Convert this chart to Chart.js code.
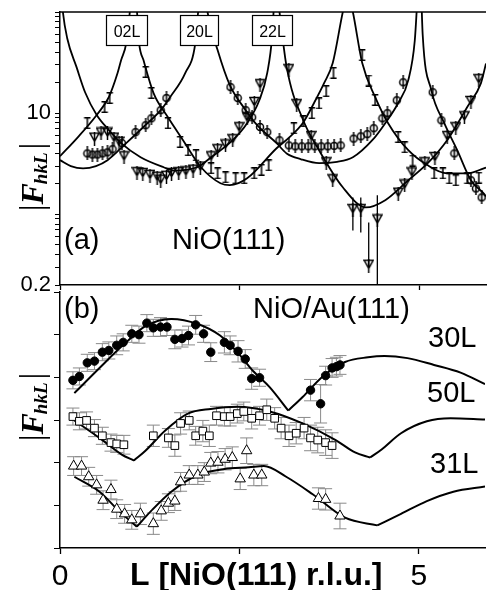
<!DOCTYPE html>
<html>
<head>
<meta charset="utf-8">
<script src="https://cdn.jsdelivr.net/npm/chart.js@4.4.0/dist/chart.umd.min.js"></script>
<style>
  html, body { margin: 0; padding: 0; background: #fff; }
  #wrap { position: relative; width: 492px; height: 590px; overflow: hidden; background: #fff; }
  canvas { position: absolute; left: 0; }
  #chartA { top: 0; }
  #chartB { top: 285px; }
</style>
</head>
<body>
<div id="wrap">
  <canvas id="chartA" width="492" height="300"></canvas>
  <canvas id="chartB" width="492" height="305"></canvas>
</div>
<script>
// ---------- panel (a): NiO(111), |F| on a log axis ----------
const rodNames = ['02L', '20L', '22L'];
const logTickValues = [0.2, 0.3, 0.4, 0.5, 0.6, 0.7, 0.8, 0.9, 1, 2, 3, 4, 5, 6, 7, 8, 9, 10, 20, 30, 40, 50, 60, 70, 80, 90, 100];
const logTickLabels = { 0.2: '0.2', 10: '10' };

// fitted CTR curves (null = break at a Bragg peak)
const fit02L_L = [0, 0.25, 0.51, 0.68, 0.8, 0.85, 0.92, 0.97, 0.99, 1.0,
  1.01, 1.07, 1.1, 1.16, 1.3, 1.5, 1.71, 1.96, 2.23, 2.36, 2.6, 3.01, 3.19, 3.38, 3.53, 3.67, 3.79, 3.93, 3.99, 4.0,
  4.01, 4.07, 4.2, 4.38, 4.56, 4.84, 5.11, 5.38, 5.66, 5.89, 5.92];
const fit02L_F = [3.75, 5.8, 9.6, 14.5, 24.9, 33.5, 49, 100, 150, null,
  150, 100, 49, 33.5, 15.8, 9.1, 5.4, 2.92, 2.03, 1.94, 2.27, 4.5, 5.8, 8.1, 12.6, 19.8, 31.3, 100, 150, null,
  150, 100, 31.3, 14.4, 7.96, 4.3, 3.05, 2.54, 2.54, 2.85, 2.9];

const fit20L_L = [0, 0.15, 0.32, 0.5, 0.66, 0.92, 1.16, 1.4, 1.53, 1.74, 1.88, 1.92, 1.98, 2.0,
  2.02, 2.05, 2.19, 2.36, 2.56, 2.74, 3.01, 3.15, 3.35, 3.6, 3.85, 4.07, 4.34, 4.52, 4.7, 4.84, 4.93, 4.97, 5.0,
  5.02, 5.04, 5.16, 5.34, 5.52, 5.71, 5.89, 5.92];
const fit20L_F = [3.43, 3.0, 2.85, 3.0, 3.43, 5.05, 7.3, 10.7, 14.4, 24.9, 49, 100, 150, null,
  150, 100, 42, 18.9, 11.2, 7.6, 5.05, 4.0, 3.5, 3.2, 3.3, 3.66, 5.4, 7.96, 12.6, 21.2, 52, 150, null,
  150, 60, 16.9, 7.96, 4.3, 2.17, 1.6, 1.5];

const fit22L_L = [0.02, 0.04, 0.1, 0.23, 0.35, 0.51, 0.68, 0.85, 1.12, 1.44, 1.6, 1.75, 1.92, 2.1, 2.4, 2.6, 2.77, 2.88, 2.95, 2.98, 3.0,
  3.02, 3.05, 3.15, 3.38, 3.6, 3.93, 4.25, 4.52, 4.84, 5.11, 5.38, 5.66, 5.85, 5.92];
const fit22L_F = [150, 100, 55, 28.5, 16, 9.6, 6.8, 5.05, 3.66, 2.92, 2.7, 2.75, 2.95, 3.66, 5.4, 7.96, 13.4, 25, 60, 150, null,
  150, 100, 28.5, 8.5, 4.3, 1.85, 1.17, 1.38, 2.17, 3.2, 5.4, 11.5, 19.8, 31];

// measured points
const obs02L_L = [0.38, 0.62, 0.69, 1.19, 1.27, 1.5, 1.67, 1.78, 1.89, 2.1, 2.19, 2.3, 2.44, 2.56, 2.7, 2.8, 2.9,
  3.25, 3.38, 3.5, 3.6, 3.7, 3.8, 4.2, 4.29, 4.38, 4.7, 4.79, 4.9, 5.2, 5.32, 5.41, 5.5, 5.66, 5.82];
const obs02L_F = [7.96, 11.5, 14.1, 25.5, 15.8, 7.96, 5.2, 4.3, 3.83, 2.85, 2.54, 2.32, 2.27, 2.27, 2.54, 2.75, 3.05,
  7.1, 8.3, 10, 12.5, 16.5, 25, 37.5, 21, 13.5, 5.8, 4.6, 3.4, 2.54, 2.54, 2.27, 2.17, 2.27, 2.3];

const obs20L_L = [0.38, 0.45, 0.52, 0.59, 0.66, 0.73, 0.86, 1.05, 1.19, 1.27, 1.4, 1.48,
  2.37, 2.47, 2.58, 2.67, 2.78, 2.88, 3.05, 3.18, 3.27, 3.36, 3.45, 3.54, 3.63, 3.72, 3.81, 3.9,
  4.08, 4.18, 4.27, 4.36, 4.48, 4.55, 4.68, 4.77, 5.18, 5.3, 5.48, 5.71, 5.78, 5.86];
const obs20L_F = [4.0, 3.9, 3.9, 4.0, 4.1, 4.4, 5.05, 6.5, 7.6, 8.9, 10.7, 14.1,
  18.1, 14.1, 10.7, 9.1, 7.3, 6.5, 5.4, 4.8, 4.7, 4.7, 4.7, 4.7, 4.7, 4.7, 4.75, 4.8,
  5.6, 5.9, 6.2, 7.1, 8.9, 10, 13.4, 20.2, 16.1, 8.5, 4.0, 2.17, 1.8, 1.47];

const obs22L_L = [0.48, 0.57, 0.66, 0.75, 0.82, 0.89, 1.07, 1.15, 1.25, 1.35, 1.4, 1.48, 1.55, 1.65, 1.75, 1.85, 1.95,
  2.1, 2.19, 2.3, 2.4, 2.49, 2.6, 2.7, 2.78, 3.18, 3.29, 3.49, 3.7, 3.79,
  4.7, 4.79, 4.89, 5.07, 5.21, 5.38, 5.5, 5.62, 5.71, 5.82];
const obs22L_F = [5.6, 6.3, 6.3, 5.6, 5.1, 3.66, 2.55, 2.5, 2.4, 2.3, 2.15, 2.35, 2.5, 2.55, 2.6, 2.7, 2.9,
  3.66, 4.3, 4.8, 5.4, 7.1, 8.9, 12.6, 18.9, 26.6, 12, 5.8, 3.2, 2.17,
  1.6, 1.93, 2.54, 3.2, 3.6, 5.8, 7.1, 9.1, 12.9, 21.2];
// weak 22L points with long error bars
const weak22L_L = [4.07, 4.18, 4.29, 4.41];
const weak22L_F = [1.1, 1.1, 0.31, 0.87];
const weak22L_lo = [0.69, 0.66, 0.31, 0.1];
const weak22L_hi = [1.47, 1.47, 0.83, 1.54];

// ---------- panel (b): NiO/Au(111), linear |F| ----------
const fit30L_L = [0.2, 0.55, 0.92, 1.19, 1.55, 1.92, 2.23, 2.47, 2.7, 2.92, 3.18, 3.18, 3.18, 3.38, 3.66, 3.97, 4.29, 4.52, 4.84, 5.21, 5.58, 5.92];
const fit30L_F = [3.63, 4.22, 4.82, 5.2, 5.37, 5.25, 4.98, 4.59, 4.13, 3.77, 3.22, null, 3.22, 3.54, 4.02, 4.36, 4.47, 4.5, 4.45, 4.29, 4.11, 3.84];
const fit50L_L = [0.2, 0.55, 0.86, 1.03, 1.03, 1.03, 1.19, 1.47, 1.78, 2.1, 2.47, 2.92, 3.38, 3.84, 4.11, 4.32, 4.32, 4.32, 4.48, 4.75, 5.11, 5.44, 5.92];
const fit50L_F = [2.99, 2.58, 2.19, 2.05, null, 2.05, 2.28, 2.76, 3.15, 3.26, 3.31, 3.2, 2.92, 2.53, 2.24, 2.12, null, 2.12, 2.31, 2.69, 2.97, 3.04, 3.01];
const fit31L_L = [0.2, 0.55, 0.82, 1.07, 1.07, 1.07, 1.27, 1.55, 1.92, 2.29, 2.63, 2.84, 3.15, 3.52, 3.97, 4.42, 4.42, 4.42, 4.75, 5.11, 5.48, 5.92];
const fit31L_F = [1.67, 1.32, 0.87, 0.5, null, 0.5, 0.87, 1.32, 1.71, 1.85, 1.89, 1.92, 1.67, 1.26, 0.71, 0.53, null, 0.53, 0.8, 1.1, 1.32, 1.44];

const obs30L_L = [0.18, 0.27, 0.38, 0.48, 0.59, 0.68, 0.79, 0.88, 1.0, 1.1, 1.21, 1.3, 1.4, 1.49, 1.6, 1.7, 1.79, 1.89, 2.0, 2.1,
  2.29, 2.37, 2.48, 2.58, 2.67, 2.78, 3.49, 3.63, 3.7, 3.79, 3.85, 3.9];
const obs30L_F = [3.93, 4.02, 4.34, 4.38, 4.59, 4.63, 4.75, 4.82, 5.02, 5.0, 5.27, 5.16, 5.18, 5.18, 4.89, 4.91, 4.98, 5.23, 5.02, 4.59,
  4.82, 4.75, 4.61, 4.43, 3.97, 3.99, 3.7, 3.38, 4.04, 4.22, 4.25, 4.29];
const err30L = [0.2, 0.2, 0.2, 0.2, 0.2, 0.2, 0.22, 0.2, 0.2, 0.2, 0.2, 0.2, 0.22, 0.2, 0.22, 0.2, 0.22, 0.22, 0.2, 0.22,
  0.25, 0.22, 0.25, 0.22, 0.25, 0.2, 0.25, 0.45, 0.22, 0.22, 0.22, 0.22];

const obs50L_L = [0.18, 0.27, 0.37, 0.48, 0.59, 0.71, 0.79, 0.89, 1.3, 1.51, 1.6, 1.68, 1.8, 1.89, 1.99, 2.08, 2.18, 2.29, 2.37, 2.47,
  2.56, 2.67, 2.78, 2.88, 2.99, 3.08, 3.19, 3.29, 3.4, 3.49, 3.59, 3.7, 3.79];
const obs50L_F = [3.08, 2.97, 2.99, 2.81, 2.63, 2.47, 2.44, 2.42, 2.63, 2.58, 2.4, 2.92, 2.99, 2.63, 2.74, 2.63, 3.1, 3.08, 3.08, 3.15,
  3.2, 3.04, 3.1, 3.24, 3.04, 2.81, 2.63, 2.69, 2.81, 2.58, 2.53, 2.47, 2.4];
const err50L = [0.2, 0.2, 0.2, 0.2, 0.2, 0.2, 0.2, 0.22, 0.25, 0.22, 0.25, 0.25, 0.22, 0.22, 0.25, 0.25, 0.22, 0.22, 0.22, 0.22,
  0.22, 0.25, 0.22, 0.25, 0.25, 0.25, 0.25, 0.25, 0.25, 0.3, 0.3, 0.3, 0.3];

const obs31L_L = [0.19, 0.3, 0.4, 0.51, 0.6, 0.71, 0.79, 0.9, 1.0, 1.12, 1.3, 1.41, 1.51, 1.6, 1.68, 1.8, 1.92, 2.01, 2.1, 2.2,
  2.3, 2.4, 2.51, 2.6, 2.7, 2.81, 3.6, 3.7, 3.9];
const obs31L_F = [1.92, 1.92, 1.67, 1.48, 1.12, 1.37, 0.91, 0.8, 0.66, 0.8, 0.57, 0.87, 1.05, 1.1, 1.55, 1.71, 1.71, 1.78, 1.99, 2.01,
  2.08, 2.12, 1.62, 2.28, 1.71, 1.71, 1.16, 1.14, 0.75];
const err31L = [0.22, 0.22, 0.22, 0.22, 0.22, 0.22, 0.22, 0.22, 0.22, 0.25, 0.25, 0.22, 0.22, 0.22, 0.22, 0.22, 0.22, 0.22, 0.25, 0.25,
  0.25, 0.25, 0.25, 0.3, 0.25, 0.25, 0.25, 0.25, 0.3];

const axisTicksL = [0, 2.5, 5];
const axisTickLabels = { 0: '0', 5: '5' };

// ---------- helpers ----------
const SANS = '"Liberation Sans", Arial, sans-serif';
const SERIF = '"Liberation Serif", "Times New Roman", serif';
Chart.defaults.font.family = SANS;
Chart.defaults.color = '#000';

const pts = (xs, ys) => xs.map((x, i) => ({ x: x, y: ys[i] }));

function fitLine(xs, ys, w) {
  return {
    type: 'line', data: pts(xs, ys), borderColor: '#000', borderWidth: w,
    pointRadius: 0, cubicInterpolationMode: 'monotone', spanGaps: false, order: 3
  };
}

function marker(kind) {
  const c = document.createElement('canvas');
  if (kind === 'ibeam') { c.width = 8; c.height = 12; }
  else if (kind === 'ring') { c.width = 10; c.height = 14; }
  else { c.width = 11; c.height = 14; }
  const g = c.getContext('2d');
  g.strokeStyle = '#000';
  g.lineWidth = 1.5;
  g.beginPath();
  if (kind === 'ibeam') {
    g.moveTo(4, 0.8); g.lineTo(4, 11.2);
    g.moveTo(0.8, 0.8); g.lineTo(7.2, 0.8);
    g.moveTo(0.8, 11.2); g.lineTo(7.2, 11.2);
  } else if (kind === 'ring') {
    g.arc(5, 7, 3.5, 0, Math.PI * 2);
    g.moveTo(5, 0); g.lineTo(5, 14);
  } else {
    g.moveTo(1, 1.5); g.lineTo(10, 1.5); g.lineTo(5.5, 9.8); g.closePath();
    g.moveTo(5.5, 0); g.lineTo(5.5, 14);
  }
  g.stroke();
  return c;
}

function points(xs, ys, style, extra) {
  return Object.assign({
    type: 'line', data: pts(xs, ys), showLine: false, pointStyle: style,
    pointRadius: 5, pointBorderColor: '#000', pointBackgroundColor: '#000', order: 1
  }, extra || {});
}

const errorBars = {
  id: 'errorBars',
  beforeDatasetsDraw(chart) {
    const ctx = chart.ctx, a = chart.chartArea;
    const xs = chart.scales.x, ys = chart.scales.y;
    ctx.save();
    ctx.beginPath(); ctx.rect(a.left, a.top, a.right - a.left, a.bottom - a.top); ctx.clip();
    chart.data.datasets.forEach(ds => {
      if (!ds.errLow) return;
      ctx.strokeStyle = ds.errColor || '#000';
      ctx.lineWidth = ds.errWidth || 1;
      ds.data.forEach((p, j) => {
        const x = xs.getPixelForValue(p.x);
        const y1 = ys.getPixelForValue(ds.errLow[j]);
        const y2 = ys.getPixelForValue(ds.errHigh[j]);
        ctx.beginPath();
        ctx.moveTo(x, y1); ctx.lineTo(x, y2);
        if (ds.errCap) {
          ctx.moveTo(x - ds.errCap, y1); ctx.lineTo(x + ds.errCap, y1);
          ctx.moveTo(x - ds.errCap, y2); ctx.lineTo(x + ds.errCap, y2);
        }
        ctx.stroke();
      });
    });
    ctx.restore();
  }
};

function drawText(ctx, text, x, y, font, align) {
  ctx.font = font;
  ctx.textAlign = align || 'left';
  ctx.textBaseline = 'alphabetic';
  ctx.fillStyle = '#000';
  ctx.fillText(text, x, y);
}

// |F_hkL| rotated title
function drawFTitle(ctx, cx, cy) {
  ctx.save();
  ctx.translate(cx, cy);
  ctx.rotate(-Math.PI / 2);
  ctx.fillStyle = '#000';
  ctx.textBaseline = 'alphabetic';
  ctx.textAlign = 'left';
  const barFont = '34px ' + SERIF, bigFont = 'bold italic 32px ' + SERIF, subFont = 'bold italic 19px ' + SERIF;
  ctx.font = barFont; const wb = ctx.measureText('|').width;
  ctx.font = bigFont; const wf = ctx.measureText('F').width;
  ctx.font = subFont; const ws = ctx.measureText('hkL').width;
  let x = -(2 * wb + wf + ws + 2) / 2;
  ctx.font = barFont; ctx.fillText('|', x, 11); x += wb;
  ctx.font = bigFont; ctx.fillText('F', x, 11); x += wf;
  ctx.font = subFont; ctx.fillText('hkL', x - 1, 15); x += ws + 2;
  ctx.font = barFont; ctx.fillText('|', x, 11);
  ctx.restore();
}

const decorA = {
  id: 'decorA',
  afterDraw(chart) {
    const ctx = chart.ctx, a = chart.chartArea;
    ctx.save();
    ctx.strokeStyle = '#000'; ctx.lineWidth = 1.5;
    ctx.beginPath(); ctx.moveTo(a.left, a.top); ctx.lineTo(a.right, a.top); ctx.stroke();
    // rod label boxes
    const boxes = [[106, 41], [180, 38], [252, 40]];
    rodNames.forEach((name, i) => {
      const [bx, bw] = boxes[i];
      ctx.fillStyle = '#fff';
      ctx.fillRect(bx, 15, bw, 30);
      ctx.lineWidth = 1.2;
      ctx.strokeRect(bx + 0.5, 15.5, bw, 30);
      drawText(ctx, name, bx + bw / 2 + 0.5, 37, '16px ' + SANS, 'center');
    });
    drawText(ctx, '(a)', 64, 249, '29px ' + SANS);
    drawText(ctx, 'NiO(111)', 172, 249, '29px ' + SANS);
    drawFTitle(ctx, 32, 177);
    ctx.restore();
  }
};

const decorB = {
  id: 'decorB',
  afterDraw(chart) {
    const ctx = chart.ctx, top = 285;
    ctx.save();
    drawText(ctx, '(b)', 64, 318 - top, '29px ' + SANS);
    drawText(ctx, 'NiO/Au(111)', 253, 318 - top, '29px ' + SANS);
    drawText(ctx, '30L', 428, 347 - top, '29px ' + SANS);
    drawText(ctx, '50L', 427, 402 - top, '29px ' + SANS);
    drawText(ctx, '31L', 430, 473 - top, '29px ' + SANS);
    drawText(ctx, 'L [NiO(111) r.l.u.]', 130, 585 - top, 'bold 32px ' + SANS);
    drawFTitle(ctx, 32, 407 - top);
    ctx.restore();
  }
};

function xScale(showLabels, tickLen, height) {
  return {
    type: 'linear', min: 0, max: 5.92,
    afterBuildTicks: s => { s.ticks = axisTicksL.map(v => ({ value: v })); },
    afterFit: s => { s.height = height; s.paddingLeft = 0; s.paddingRight = 0; },
    grid: { drawOnChartArea: false, tickLength: tickLen, tickColor: '#000', tickWidth: 1.3 },
    border: { color: '#000', width: 1.5 },
    ticks: {
      display: showLabels, autoSkip: false, maxRotation: 0, padding: 5,
      font: { size: 30 },
      callback: v => (axisTickLabels[v] !== undefined ? axisTickLabels[v] : '')
    }
  };
}

const blackI = marker('ibeam'), ringBar = marker('ring'), triBar = marker('tri');

new Chart(document.getElementById('chartA'), {
  type: 'line',
  data: {
    datasets: [
      fitLine(fit02L_L, fit02L_F, 1.8),
      fitLine(fit20L_L, fit20L_F, 1.8),
      fitLine(fit22L_L, fit22L_F, 1.8),
      points(obs02L_L, obs02L_F, blackI),
      points(obs20L_L, obs20L_F, ringBar),
      points(obs22L_L, obs22L_F, triBar),
      points(weak22L_L, weak22L_F, triBar, { errLow: weak22L_lo, errHigh: weak22L_hi, errColor: '#000', errWidth: 1.3 })
    ]
  },
  options: {
    responsive: false, animation: false,
    layout: { padding: { top: 12, right: 0, left: 0, bottom: 0 } },
    plugins: { legend: { display: false }, tooltip: { enabled: false } },
    scales: {
      x: xScale(false, 5, 15),
      y: {
        type: 'logarithmic', min: 0.2, max: 100,
        afterBuildTicks: s => { s.ticks = logTickValues.map(v => ({ value: v })); },
        afterFit: s => { s.width = 60; s.paddingTop = 0; s.paddingBottom = 0; },
        grid: { drawOnChartArea: false, tickLength: 5, tickColor: '#000', tickWidth: 1 },
        border: { color: '#000', width: 1.5 },
        ticks: {
          autoSkip: false, padding: 4, font: { size: 22 },
          callback: v => (logTickLabels[v] !== undefined ? logTickLabels[v] : '')
        }
      }
    }
  },
  plugins: [errorBars, decorA]
});

const withErr = (ys, es) => ({
  errLow: ys.map((y, i) => y - es[i]), errHigh: ys.map((y, i) => y + es[i]),
  errColor: '#8a8a8a', errCap: 6.5, errWidth: 1
});

new Chart(document.getElementById('chartB'), {
  type: 'line',
  data: {
    datasets: [
      fitLine(fit30L_L, fit30L_F, 2),
      fitLine(fit50L_L, fit50L_F, 2),
      fitLine(fit31L_L, fit31L_F, 2),
      points(obs30L_L, obs30L_F, 'circle', Object.assign({ pointRadius: 4.2, pointBackgroundColor: '#000' }, withErr(obs30L_F, err30L))),
      points(obs50L_L, obs50L_F, 'rect', Object.assign({ pointRadius: 5.4, pointBackgroundColor: '#fff', pointBorderWidth: 1 }, withErr(obs50L_F, err50L))),
      points(obs31L_L, obs31L_F, 'triangle', Object.assign({ pointRadius: 6, pointBackgroundColor: '#fff', pointBorderWidth: 1 }, withErr(obs31L_F, err31L)))
    ]
  },
  options: {
    responsive: false, animation: false,
    layout: { padding: 0 },
    plugins: { legend: { display: false }, tooltip: { enabled: false } },
    scales: {
      x: xScale(true, 6, 42),
      y: {
        type: 'linear', min: 0, max: 6,
        afterFit: s => { s.width = 60; s.paddingTop = 0; s.paddingBottom = 0; },
        grid: { drawOnChartArea: false, tickLength: 6, tickColor: '#000', tickWidth: 1 },
        border: { color: '#000', width: 1.5 },
        ticks: { stepSize: 1, autoSkip: false, callback: () => '' }
      }
    }
  },
  plugins: [errorBars, decorB]
});
</script>
</body>
</html>
